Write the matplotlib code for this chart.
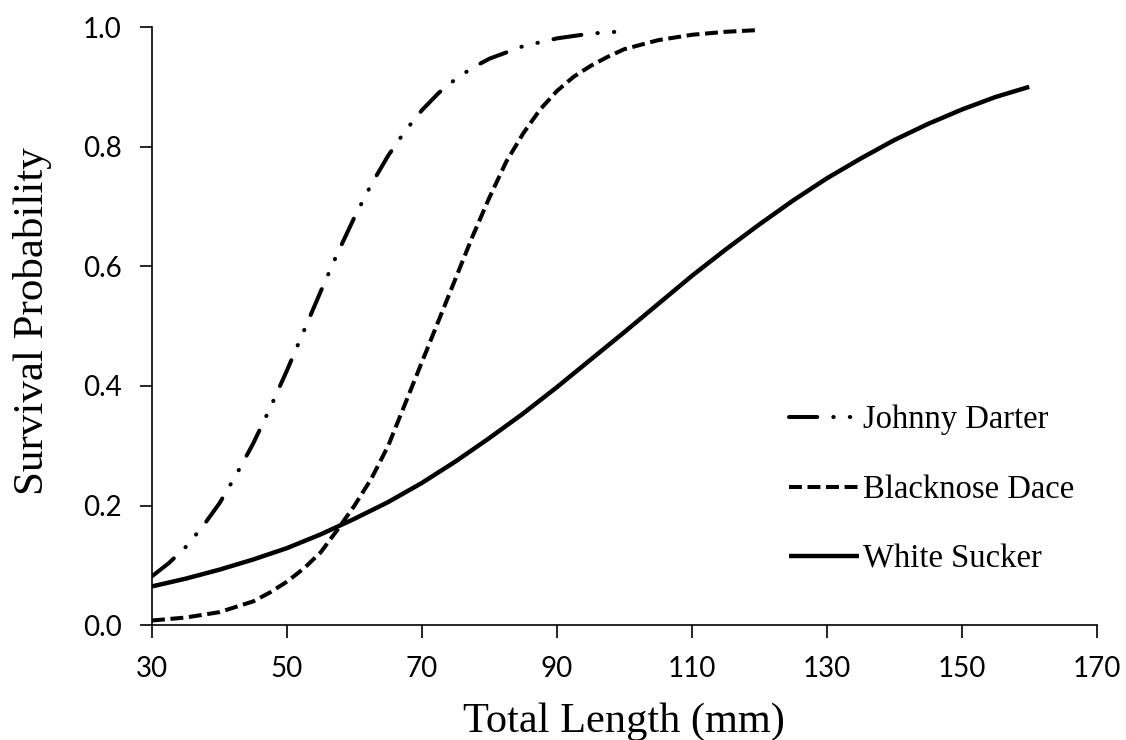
import numpy as np
import matplotlib.pyplot as plt

# values
jd_len = [30, 32.5, 35, 37.5, 40, 42.5, 45, 47.5, 50, 52.5, 55, 57.5, 60, 62.5, 65,
          67.5, 70, 72.5, 75, 77.5, 80, 85, 90, 95, 100]
jd_surv = [0.082, 0.104, 0.131, 0.165, 0.204, 0.252, 0.304, 0.363, 0.426, 0.492, 0.558,
           0.622, 0.682, 0.737, 0.785, 0.826, 0.861, 0.89, 0.913, 0.932, 0.947, 0.968,
           0.981, 0.989, 0.993]

bd_len = [30, 35, 40, 45, 47.5, 50, 52.5, 55, 57.5, 60, 62.5, 65, 67.5, 70, 72.5, 75,
          77.5, 80, 82.5, 85, 87.5, 90, 92.5, 95, 97.5, 100, 105, 110, 115, 120]
bd_surv = [0.008, 0.013, 0.022, 0.04, 0.055, 0.073, 0.095, 0.122, 0.16, 0.2, 0.245, 0.3,
           0.37, 0.44, 0.51, 0.58, 0.65, 0.715, 0.775, 0.822, 0.862, 0.893, 0.917, 0.935,
           0.95, 0.963, 0.978, 0.987, 0.992, 0.995]

ws_len = [30, 35, 40, 45, 50, 55, 60, 65, 70, 75, 80, 85, 90, 95, 100, 105, 110, 115,
          120, 125, 130, 135, 140, 145, 150, 155, 160]
ws_surv = [0.065, 0.078, 0.093, 0.11, 0.129, 0.152, 0.178, 0.206, 0.238, 0.274, 0.313,
           0.354, 0.398, 0.444, 0.49, 0.537, 0.584, 0.628, 0.67, 0.71, 0.747, 0.78,
           0.811, 0.838, 0.862, 0.883, 0.90]

xticks = [30, 50, 70, 90, 110, 130, 150, 170]
yticks = [0.0, 0.2, 0.4, 0.6, 0.8, 1.0]

fig = plt.figure(figsize=(11.26, 7.4), dpi=100)
ax = fig.add_axes([0.135, 0.155, 0.839, 0.8085])

lw = 2.9
l1, = ax.plot(jd_len, jd_surv, color='black', lw=lw, label='Johnny Darter',
              dashes=(7, 4, 0.1, 4, 0.1, 4), dash_capstyle='round')
l2, = ax.plot(bd_len, bd_surv, color='black', lw=lw, label='Blacknose Dace',
              dashes=(3.2, 1.4), dash_capstyle='butt')
l3, = ax.plot(ws_len, ws_surv, color='black', lw=lw + 0.3, label='White Sucker',
              solid_capstyle='butt')

ax.set_xlim(30, 170)
ax.set_ylim(0, 1)
ax.set_xticks(xticks)
ax.set_yticks(yticks)
ax.set_yticklabels(['%.1f' % v for v in yticks])
ax.spines['top'].set_visible(False)
ax.spines['right'].set_visible(False)
for s in ['left', 'bottom']:
    ax.spines[s].set_linewidth(1.2)
ax.tick_params(direction='out', length=9, width=1.2, labelsize=20, pad=13)
for lab in ax.get_xticklabels() + ax.get_yticklabels():
    lab.set_family('Lato')

ax.set_xlabel('Total Length (mm)', family='Liberation Serif', fontsize=30.5, labelpad=15)
ax.set_ylabel('Survival Probability', family='Liberation Serif', fontsize=31,
              labelpad=22, y=0.508)

ax.legend(handles=[l1, l2, l3], loc='center left', bbox_to_anchor=(0.6865, 0.338),
          bbox_transform=fig.transFigure, frameon=False, borderpad=0,
          handlelength=2.13, handletextpad=0.13, labelspacing=1.2,
          prop={'family': 'Liberation Serif', 'size': 23.5})

plt.savefig('out.png', dpi=100)
